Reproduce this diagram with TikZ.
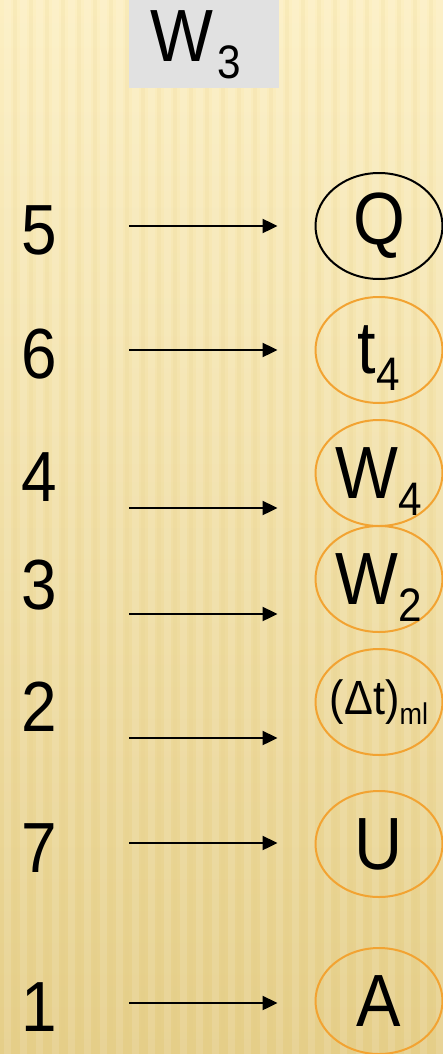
\documentclass[tikz,border=0pt]{standalone}
\usepackage{fontspec}
\setmainfont[FakeStretch=0.9]{Liberation Sans}
\usetikzlibrary{shapes.geometric, arrows.meta}

\definecolor{paperlight}{RGB}{252,239,194}
\definecolor{paperdark}{RGB}{229,206,136}
\definecolor{ringorange}{RGB}{242,163,50}
\definecolor{tabgray}{RGB}{225,225,225}

% subscript hanging below the baseline, kept out of the node size
\newcommand{\lowidx}[1]{\raisebox{-17pt}[0pt][0pt]{\fontsize{47}{47}\selectfont #1}}

\begin{document}
\begin{tikzpicture}[x=1pt, y=-1pt,
  numeral/.style={font=\fontsize{71}{71}\selectfont, inner sep=0pt},
  quantity/.style={ellipse, draw=ringorange, line width=2pt, minimum width=127pt,
                   minimum height=106pt, inner sep=0pt, font=\fontsize{74}{74}\selectfont},
  flow/.style={-{Triangle[length=15pt, width=14pt]}, line width=2.4pt, shorten >=37pt},
]
  % paper background
  \useasboundingbox (0,0) rectangle (443,1054);
  \shade[top color=paperlight, bottom color=paperdark] (0,0) rectangle (443,1054);
  \foreach \x in {4,20,...,440}
    \fill[white, opacity=0.12] (\x,0) rectangle ++(7,1054);
  \foreach \x in {13,29,...,440}
    \fill[paperdark, opacity=0.14] (\x,0) rectangle ++(4,1054);

  \node[fill=tabgray, minimum width=150pt, minimum height=88pt, inner sep=0pt,
        text depth=15pt, font=\fontsize{74}{74}\selectfont] (head) at (204,44)
    {W\kern4pt\lowidx{3}\kern16pt};

  % left column
  \node[numeral] (n5) at (39,230) {5};
  \node[numeral] (n6) at (39,354) {6};
  \node[numeral] (n4) at (39,477) {4};
  \node[numeral] (n3) at (39,585) {3};
  \node[numeral] (n2) at (39,707) {2};
  \node[numeral] (n7) at (39,848) {7};
  \node[numeral] (n1) at (39,1007) {1};

  % right column
  \node[quantity, draw=black] (q) at (379,226) {Q};
  \node[quantity] (t4) at (379,350) {t\lowidx{4}};
  \node[quantity] (w4) at (379,473) {W\lowidx{4}};
  \node[quantity] (w2) at (379,579) {W\lowidx{2}};
  \node[quantity, inner xsep=-20pt, font=\fontsize{48}{48}\selectfont] (dt) at (379,702)
    {(\symbol{"0394}t)\raisebox{-10pt}[0pt][0pt]{\fontsize{30}{30}\selectfont ml}};
  \node[quantity] (u) at (379,844) {U};
  \node[quantity] (a) at (379,1001) {A};

  \coordinate (s5) at (129,226);
  \coordinate (s6) at (129,350);
  \coordinate (s4) at (129,508);
  \coordinate (s3) at (129,614);
  \coordinate (s2) at (129,738);
  \coordinate (s7) at (129,843);
  \coordinate (s1) at (129,1003);
  \draw[flow] (s5) -- (s5 -| q.west);
  \draw[flow] (s6) -- (s6 -| t4.west);
  \draw[flow] (s4) -- (s4 -| w4.west);
  \draw[flow] (s3) -- (s3 -| w2.west);
  \draw[flow] (s2) -- (s2 -| dt.west);
  \draw[flow] (s7) -- (s7 -| u.west);
  \draw[flow] (s1) -- (s1 -| a.west);
\end{tikzpicture}
\end{document}
